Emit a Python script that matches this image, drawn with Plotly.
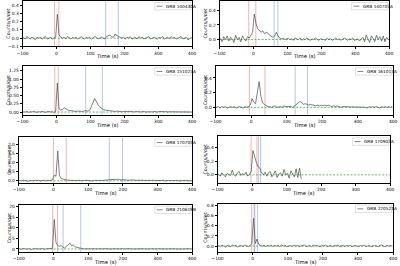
import plotly.graph_objects as go

# ---------------- data ----------------
bin_width = 5.0
time_centers = [-97.5 + bin_width * k for k in range(100)]

grb_names = ["GRB 140430A", "GRB 140703A", "GRB 151027A", "GRB 161017A",
             "GRB 170705A", "GRB 170903A", "GRB 210619B", "GRB 220521A"]

rate_140430A = [
    0.01, -0.01, 0.02, 0.00, -0.01, 0.01, 0.00, -0.02, 0.01, 0.00,
    0.01, -0.01, 0.00, 0.02, -0.01, 0.00, 0.01, -0.01, 0.00, 0.01,
    0.29, 0.04, 0.01, 0.00, 0.01, -0.01, 0.02, 0.00, -0.01, 0.01,
    0.00, 0.01, -0.01, 0.00, 0.02, 0.00, -0.01, 0.01, 0.00, 0.01,
    -0.01, 0.00, 0.02, 0.01, -0.01, 0.00, 0.01, 0.00, -0.01, 0.02,
    0.03, 0.04, 0.02, 0.01, 0.05, 0.03, 0.02, 0.01, 0.00, 0.01,
    -0.01, 0.01, 0.00, 0.02, -0.01, 0.00, 0.01, -0.01, 0.02, 0.00,
    0.01, -0.01, 0.00, 0.01, 0.02, -0.01, 0.00, 0.01, 0.00, -0.01,
    0.01, 0.00, 0.02, -0.01, 0.00, 0.01, -0.01, 0.02, 0.00, 0.01,
    -0.01, 0.00, 0.01, 0.02, -0.01, 0.00, 0.01, -0.02, 0.00, 0.01]

rate_140703A = [
    0.02, -0.03, 0.04, 0.00, 0.05, -0.02, 0.03, 0.01, -0.04, 0.06,
    0.00, 0.03, -0.03, 0.05, 0.01, -0.02, 0.04, 0.02, 0.06, 0.10,
    0.35, 0.22, 0.15, 0.13, 0.10, 0.12, 0.08, 0.10, 0.09, 0.06,
    0.05, 0.03, 0.05, 0.10, 0.05, 0.02, 0.01, 0.02, 0.00, 0.01,
    0.02, 0.00, 0.01, -0.01, 0.02, 0.01, 0.00, 0.02, -0.01, 0.01,
    0.00, 0.02, 0.01, -0.01, 0.01, 0.00, 0.02, 0.00, -0.01, 0.01,
    0.01, 0.00, -0.01, 0.02, 0.00, 0.01, -0.01, 0.01, 0.02, 0.00,
    0.01, -0.01, 0.00, 0.02, 0.01, -0.01, 0.01, 0.00, 0.02, -0.01,
    0.00, 0.01, -0.02, 0.01, 0.03, -0.03, 0.06, 0.01, -0.04, 0.05,
    0.02, -0.03, 0.06, 0.00, 0.04, -0.02, 0.05, -0.03, 0.03, 0.00]

rate_151027A = [
    0.01, 0.00, 0.02, -0.01, 0.01, 0.00, 0.02, 0.01, -0.01, 0.01,
    0.00, 0.02, 0.01, -0.01, 0.01, 0.02, 0.00, 0.01, -0.01, 0.02,
    0.88, 0.10, 0.06, 0.08, 0.13, 0.09, 0.07, 0.05, 0.04, 0.03,
    0.03, 0.02, 0.03, 0.02, 0.03, 0.02, 0.04, 0.03, 0.03, 0.05,
    0.15, 0.28, 0.41, 0.30, 0.22, 0.16, 0.11, 0.08, 0.06, 0.05,
    0.04, 0.04, 0.03, 0.03, 0.02, 0.03, 0.02, 0.03, 0.01, 0.02,
    0.02, 0.01, 0.03, 0.01, 0.02, 0.00, 0.02, 0.01, 0.02, 0.00,
    0.01, 0.02, 0.00, 0.01, 0.02, 0.01, 0.00, 0.02, 0.01, 0.00,
    0.02, 0.01, 0.00, 0.01, 0.02, 0.00, 0.01, 0.01, 0.00, 0.02,
    0.01, 0.00, 0.01, 0.02, 0.00, 0.01, 0.00, 0.01, 0.02, 0.00]

rate_161017A = [
    0.00, 0.01, -0.01, 0.01, 0.00, 0.01, -0.01, 0.00, 0.01, 0.00,
    0.01, -0.01, 0.00, 0.01, 0.00, -0.01, 0.01, 0.00, 0.01, 0.03,
    0.12, 0.07, 0.05, 0.20, 0.35, 0.15, 0.06, 0.04, 0.02, 0.01,
    0.01, 0.00, 0.01, 0.02, 0.00, 0.01, 0.01, 0.00, 0.02, 0.01,
    0.01, 0.02, 0.01, 0.00, 0.02, 0.03, 0.06, 0.08, 0.07, 0.04,
    0.05, 0.04, 0.03, 0.04, 0.03, 0.03, 0.02, 0.03, 0.02, 0.03,
    0.02, 0.03, 0.02, 0.03, 0.02, 0.01, 0.02, 0.01, 0.02, 0.01,
    0.00, 0.01, 0.01, 0.00, 0.01, 0.00, 0.01, 0.01, 0.00, 0.01,
    0.00, 0.01, 0.00, 0.01, 0.00, -0.01, 0.01, 0.00, 0.01, 0.00,
    0.01, 0.00, -0.01, 0.01, 0.00, 0.01, 0.00, 0.01, 0.00, 0.01]

rate_170705A = [
    0.02, -0.02, 0.03, 0.00, 0.01, -0.03, 0.02, 0.01, -0.01, 0.03,
    0.00, 0.02, -0.02, 0.01, 0.03, -0.01, 0.02, 0.00, 0.01, 0.05,
    0.30, 0.24, 1.62, 0.30, 0.12, 0.08, 0.06, 0.04, 0.03, 0.02,
    0.03, 0.01, 0.02, 0.00, 0.03, 0.01, -0.01, 0.02, 0.01, 0.00,
    0.02, 0.01, -0.01, 0.02, 0.00, 0.01, 0.02, 0.00, 0.01, 0.03,
    0.02, 0.04, 0.06, 0.07, 0.08, 0.06, 0.07, 0.08, 0.05, 0.06,
    0.04, 0.05, 0.03, 0.04, 0.02, 0.03, 0.04, 0.02, 0.03, 0.01,
    0.02, 0.03, 0.01, 0.02, 0.00, 0.02, 0.01, 0.03, 0.00, 0.01,
    0.02, 0.00, 0.01, 0.02, -0.01, 0.01, 0.02, 0.00, 0.01, 0.02,
    0.00, 0.01, -0.01, 0.02, 0.01, 0.00, 0.02, -0.01, 0.01, 0.00]

rate_170903A = [
    0.01, -0.02, 0.03, 0.00, -0.03, 0.02, 0.01, -0.01, 0.07, 0.00,
    -0.02, 0.03, 0.05, -0.01, 0.02, 0.00, 0.04, -0.02, 0.01, 0.05,
    0.36, 0.25, 0.18, 0.12, 0.10, 0.03, 0.00, 0.04, -0.02, 0.03,
    0.05, -0.03, 0.02, 0.06, -0.04, 0.01, 0.03, -0.02, 0.08, 0.00,
    0.02, -0.05, 0.06, 0.01, -0.03, 0.09, -0.04, 0.10, -0.06]

rate_210619B = [
    0.1, -0.1, 0.2, 0.0, -0.1, 0.1, 0.0, -0.2, 0.1, 0.0,
    0.1, -0.1, 0.0, 0.2, -0.1, 0.0, 0.1, -0.1, 0.0, 0.3,
    14.0, 3.0, 1.6, 1.3, 1.6, 0.8, 0.5, 1.3, 2.1, 2.7,
    1.5, 2.0, 1.0, 0.8, 0.4, 0.2, 0.1, 0.0, 0.1, -0.1,
    0.0, 0.1, 0.0, -0.1, 0.1, 0.0, 0.1, -0.1, 0.0, 0.1,
    0.0, 0.1, -0.1, 0.0, 0.1, 0.0, -0.1, 0.1, 0.0, 0.1,
    -0.1, 0.0, 0.1, 0.0, -0.1, 0.1, 0.0, 0.0, 0.1, -0.1,
    0.0, 0.1, 0.0, -0.1, 0.1, 0.0, 0.1, 0.0, -0.1, 0.0,
    0.1, 0.0, -0.1, 0.1, 0.0, 0.0, 0.1, -0.1, 0.0, 0.1,
    0.0, -0.1, 0.1, 0.0, 0.0, 0.1, -0.1, 0.0, 0.1, 0.0]

rate_220521A = [
    0.01, -0.01, 0.02, 0.00, -0.02, 0.01, 0.00, -0.01, 0.02, 0.00,
    0.01, -0.02, 0.00, 0.01, -0.01, 0.02, 0.00, -0.01, 0.01, 0.05,
    0.55, 0.05, 0.14, 0.03, 0.01, 0.00, 0.02, -0.01, 0.01, 0.00,
    0.02, -0.01, 0.01, 0.00, 0.01, -0.01, 0.02, 0.00, 0.01, -0.01,
    0.00, 0.01, -0.01, 0.02, 0.00, 0.01, -0.01, 0.00, 0.01, 0.02,
    -0.01, 0.00, 0.01, -0.01, 0.02, 0.00, 0.01, 0.00, -0.01, 0.01,
    0.00, 0.02, -0.01, 0.00, 0.01, -0.01, 0.01, 0.00, 0.02, -0.01,
    0.00, 0.01, -0.01, 0.01, 0.00, 0.02, -0.01, 0.00, 0.01, 0.00,
    -0.01, 0.01, 0.00, 0.02, -0.01, 0.00, 0.01, -0.01, 0.00, 0.01,
    0.00, -0.01, 0.01, 0.02, 0.00, -0.01, 0.01, 0.00, 0.01, 0.00]

rates = [rate_140430A, rate_140703A, rate_151027A, rate_161017A,
         rate_170705A, rate_170903A, rate_210619B, rate_220521A]

background_time = [-100, 400]
background_level = [0.0, 0.0]

# red = prompt window, blue = second window (start, end), in seconds
red_window = [(-6, 7), (-14, 7), (-5, 5), (-5, 39), (0, 37), (-3, 14), (-2, 12), (-3, 4)]
blue_window = [(145, 182), (61, 72), (86, 135), (124, 159), (161, 199), (19, 25), (28, 79), (6, 14)]

y_tick_step = [0.1, 0.2, 0.25, 0.2, 0.5, 0.2, 5, 0.2]
y_tick_format = [".1f", ".1f", ".2f", ".1f", ".1f", ".1f", "d", ".1f"]
x_ticks = [-100, 0, 100, 200, 300, 400]

# ---------------- layout (pixel frames) ----------------
W, H = 400, 266
frames = [  # (left, right, top, bottom) in px
    (17, 191, 1, 47), (219, 393, 1, 47),
    (17, 191, 67, 116), (215, 397, 67, 116),
    (13, 191, 139, 185), (217, 394, 138, 185),
    (13, 191, 207, 255), (217, 397, 206, 255)]
y_ranges = [(-0.1, 0.45), (-0.095, 0.53), (-0.08, 1.39), (-0.1, 0.56),
            (-0.12, 2.36), (-0.12, 0.57), (-1.5, 21), (-0.12, 0.84)]

FONT = "DejaVu Sans"
DATA_COLOR = "#4a4a4a"
BKG_COLOR = "#3cb043"
RED = "rgba(230,120,120,0.7)"
BLUE = "rgba(120,150,210,0.7)"
TICK_SIZE = 4.4

def fx(p):
    return p / W

def fy(p):
    return 1 - p / H

fig = go.Figure()
shapes = []
annotations = []

for i in range(8):
    sfx = "" if i == 0 else str(i + 1)
    xa, ya = "x" + sfx, "y" + sfx
    l, r, t, b = frames[i]
    y = rates[i]
    fig.add_trace(go.Scatter(x=background_time, y=background_level, xaxis=xa, yaxis=ya,
                             mode="lines", line=dict(color=BKG_COLOR, width=0.8, dash="2px,1.5px"),
                             showlegend=False, hoverinfo="skip"))
    fig.add_trace(go.Scatter(x=time_centers[:len(y)], y=y, xaxis=xa, yaxis=ya,
                             mode="lines", line=dict(color=DATA_COLOR, width=0.7),
                             showlegend=False, name=grb_names[i]))
    for (s, e), col in ((red_window[i], RED), (blue_window[i], BLUE)):
        for v in (s, e):
            shapes.append(dict(type="line", xref=xa, yref=ya + " domain", x0=v, x1=v,
                               y0=0, y1=1, line=dict(color=col, width=0.8), layer="below"))
    fig.layout["xaxis" + sfx] = dict(
        domain=[fx(l), fx(r)], anchor=ya, range=[-100, 400], tickvals=x_ticks,
        showline=True, linecolor="black", linewidth=0.8, mirror=True,
        ticks="outside", ticklen=2, tickwidth=0.6, tickcolor="black",
        showgrid=False, zeroline=False, tickfont=dict(size=TICK_SIZE, family=FONT, color="black"))
    fig.layout["yaxis" + sfx] = dict(
        domain=[fy(b), fy(t)], anchor=xa, range=list(y_ranges[i]), dtick=y_tick_step[i],
        tick0=0, tickformat=y_tick_format[i],
        showline=True, linecolor="black", linewidth=0.8, mirror=True,
        ticks="outside", ticklen=2, tickwidth=0.6, tickcolor="black", ticklabelstandoff=0,
        showgrid=False, zeroline=False, tickfont=dict(size=TICK_SIZE, family=FONT, color="black"))
    # axis titles
    annotations.append(dict(text="Time (s)", xref="paper", yref="paper",
                            x=fx((l + r) / 2), y=fy(b + 10), xanchor="center", yanchor="middle",
                            showarrow=False, font=dict(size=5.3, family=FONT, color="black")))
    ylab_x = 3 if l < 100 else 205
    annotations.append(dict(text="Counts/s/det", xref="paper", yref="paper", textangle=-90,
                            x=fx(ylab_x), y=fy((t + b) / 2), xanchor="center", yanchor="middle",
                            showarrow=False, font=dict(size=4.8, family=FONT, color="black")))
    # legend box
    bx1, by0 = r - 1.5, t + 1.5
    bx0, by1 = bx1 - 37, by0 + 7.5
    shapes.append(dict(type="rect", xref="paper", yref="paper", x0=fx(bx0), x1=fx(bx1),
                       y0=fy(by1), y1=fy(by0), line=dict(color="#cccccc", width=0.6),
                       fillcolor="white"))
    shapes.append(dict(type="line", xref="paper", yref="paper", x0=fx(bx0 + 2), x1=fx(bx0 + 8),
                       y0=fy((by0 + by1) / 2), y1=fy((by0 + by1) / 2),
                       line=dict(color=DATA_COLOR, width=0.7)))
    annotations.append(dict(text=grb_names[i], xref="paper", yref="paper",
                            x=fx(bx0 + 9.5), y=fy((by0 + by1) / 2), xanchor="left", yanchor="middle",
                            showarrow=False, font=dict(size=4.3, family=FONT, color="black")))

fig.update_layout(width=W, height=H, margin=dict(l=0, r=0, t=0, b=0),
                  paper_bgcolor="white", plot_bgcolor="white",
                  shapes=shapes, annotations=annotations, showlegend=False)

fig.write_html("out.html")
